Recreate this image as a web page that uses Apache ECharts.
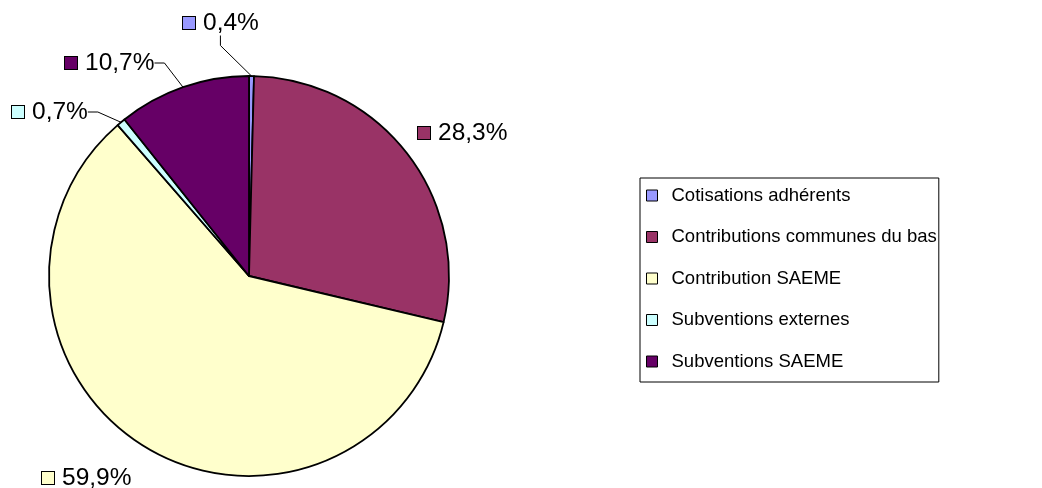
<!DOCTYPE html>
<html>
<head>
<meta charset="utf-8">
<script src="https://cdn.jsdelivr.net/npm/echarts@6/dist/echarts.min.js"></script>
<style>
  html, body { margin: 0; padding: 0; background: #fff; }
  #chart { width: 1042px; height: 488px; }
</style>
</head>
<body>
<div id="chart"></div>
<script>
// Budget breakdown (% of total resources)
const categories = [
  'Cotisations adhérents',
  'Contributions communes du bas',
  'Contribution SAEME',
  'Subventions externes',
  'Subventions SAEME'
];
const shares = [0.4, 28.3, 59.9, 0.7, 10.7];
const colors = ['#9999FF', '#993366', '#FFFFCC', '#CCFFFF', '#660066'];

// Label anchor points (left edge of the key square, vertical middle)
const labelSpots = [
  [183, 29],
  [418, 133],
  [42, 478],
  [12, 112],
  [65, 63]
];
// Extra room around each label so leader lines stop short of the text
const labelPads = [
  [0, 0, 12, 0],
  [0, 0, 0, 0],
  [0, 0, 0, 0],
  [0, 8, 0, 0],
  [0, 8, 0, 0]
];
const withLeader = [true, false, false, true, true];

const FONT = '"Liberation Sans", Arial, sans-serif';
const chart = echarts.init(document.getElementById('chart'), null, { renderer: 'canvas' });

chart.setOption({
  backgroundColor: '#ffffff',
  animation: false,
  legend: {
    orient: 'vertical',
    left: 640,
    top: 178,
    padding: [8, 2, 11, 6],
    itemWidth: 11,
    itemHeight: 11,
    itemGap: 22.5,
    borderColor: '#000',
    borderWidth: 1,
    icon: 'rect',
    itemStyle: { borderColor: '#000', borderWidth: 1 },
    textStyle: { fontFamily: FONT, fontSize: 18.5, color: '#000', padding: [0, 0, 0, 9] },
    data: categories
  },
  series: [{
    type: 'pie',
    center: [249, 276],
    radius: 200,
    startAngle: 90,
    clockwise: true,
    avoidLabelOverlap: false,
    itemStyle: { borderColor: '#000', borderWidth: 1.8 },
    emphasis: { disabled: true },
    label: {
      show: true,
      position: 'outside',
      fontFamily: FONT,
      fontSize: 24.5,
      color: '#000',
      formatter: p => '{sq|}{t|' + p.value.toFixed(1).replace('.', ',') + '%}'
    },
    labelLine: {
      show: true,
      length: 15,
      length2: 10,
      lineStyle: { color: '#000', width: 1 }
    },
    labelLayout: p => ({
      x: labelSpots[p.dataIndex][0],
      y: labelSpots[p.dataIndex][1],
      align: 'left',
      verticalAlign: 'middle'
    }),
    data: categories.map((name, i) => ({
      name,
      value: shares[i],
      itemStyle: { color: colors[i] },
      labelLine: { show: withLeader[i] },
      label: {
        padding: labelPads[i],
        rich: {
          sq: {
            width: 12, height: 12,
            backgroundColor: colors[i],
            borderColor: '#000', borderWidth: 1
          },
          t: {
            fontFamily: FONT, fontSize: 24.5, color: '#000',
            padding: [0, 0, 0, 8]
          }
        }
      }
    }))
  }]
});
</script>
</body>
</html>
